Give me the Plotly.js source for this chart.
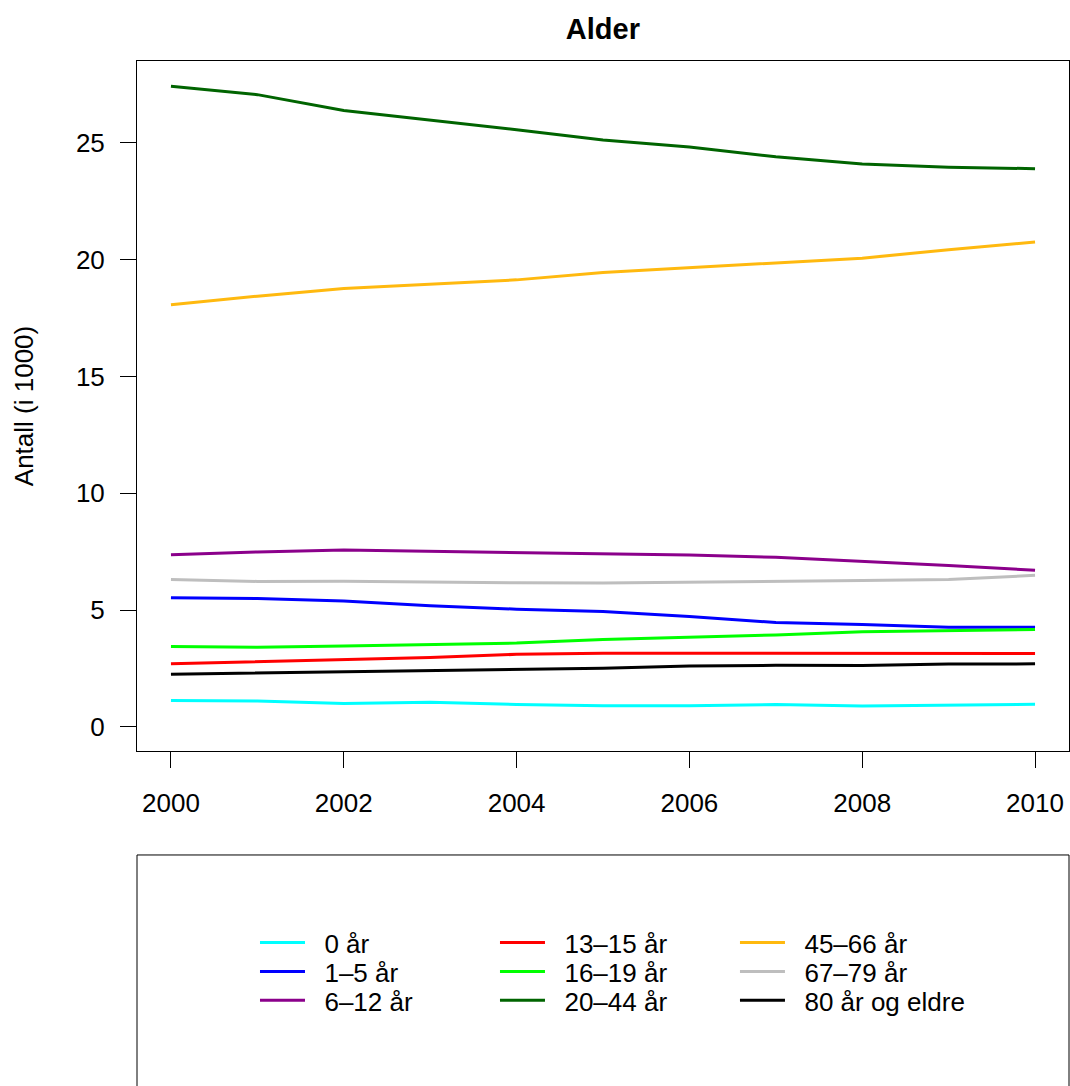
<!DOCTYPE html>
<html>
<head>
<meta charset="utf-8">
<script src="https://cdn.plot.ly/plotly-3.0.1.min.js"></script>
<style>html,body{margin:0;padding:0;background:#fff;}#chart{width:1070px;height:1086px;}</style>
</head>
<body>
<div id="chart"></div>
<script>
const years = [2000, 2001, 2002, 2003, 2004, 2005, 2006, 2007, 2008, 2009, 2010];
const seriesNames = ['0 år', '1–5 år', '6–12 år', '13–15 år', '16–19 år', '20–44 år', '45–66 år', '67–79 år', '80 år og eldre'];
const age0     = [1.13, 1.11, 1.00, 1.06, 0.96, 0.91, 0.91, 0.96, 0.90, 0.93, 0.97];
const age1_5   = [5.53, 5.50, 5.39, 5.19, 5.04, 4.94, 4.73, 4.47, 4.39, 4.27, 4.27];
const age6_12  = [7.37, 7.49, 7.57, 7.51, 7.46, 7.41, 7.36, 7.26, 7.09, 6.91, 6.71];
const age13_15 = [2.71, 2.79, 2.86, 2.97, 3.11, 3.16, 3.16, 3.16, 3.16, 3.17, 3.14];
const age16_19 = [3.44, 3.41, 3.47, 3.53, 3.59, 3.74, 3.83, 3.94, 4.07, 4.13, 4.17];
const age20_44 = [27.43, 27.07, 26.39, 25.99, 25.57, 25.13, 24.83, 24.41, 24.10, 23.96, 23.90];
const age45_66 = [18.07, 18.44, 18.77, 18.96, 19.14, 19.46, 19.67, 19.89, 20.07, 20.43, 20.76];
const age67_79 = [6.31, 6.23, 6.24, 6.20, 6.17, 6.16, 6.19, 6.21, 6.27, 6.31, 6.49];
const age80    = [2.26, 2.31, 2.36, 2.41, 2.46, 2.51, 2.61, 2.64, 2.63, 2.69, 2.70];
const seriesValues = [age0, age1_5, age6_12, age13_15, age16_19, age20_44, age45_66, age67_79, age80];
const colors = ['#00FFFF', '#0000FF', '#8B008B', '#FF0000', '#00FF00', '#006400', '#FFB90F', '#BEBEBE', '#000000'];
const yTicks = [0, 5, 10, 15, 20, 25];
const xTicks = [2000, 2002, 2004, 2006, 2008, 2010];

const FONT = 'Liberation Sans, Arial, Helvetica, sans-serif';
const FS = 26;

// one legend box per entry, laid out column by column as in the reference
const legendCols = [0.1266, 0.3841, 0.6416];
const legendRows = [-0.2435, -0.2855, -0.3275];
const legendIds = seriesNames.map((_, i) => i === 0 ? 'legend' : 'legend' + (i + 1));

const traces = seriesNames.map((name, i) => ({
  type: 'scatter', mode: 'lines', name: '\u00a0\u00a0' + name,
  x: years, y: seriesValues[i],
  line: {color: colors[i], width: 3},
  legend: legendIds[i],
  hoverinfo: 'skip'
}));

const layout = {
  width: 1070, height: 1086,
  margin: {l: 137, r: 1, t: 61, b: 335},
  paper_bgcolor: '#fff', plot_bgcolor: '#fff',
  font: {family: FONT, size: FS, color: '#000'},
  title: {text: '<b>Alder</b>', font: {family: FONT, size: 29, color: '#000'}, x: 0.5635, xanchor: 'center', y: 0.973, yanchor: 'middle'},
  xaxis: {
    range: [1999.607, 2010.393], tickvals: xTicks, ticktext: xTicks.map(String),
    ticks: 'outside', ticklen: 16, tickwidth: 1, tickcolor: '#000',
    showline: true, linecolor: '#000', linewidth: 1, mirror: true,
    showgrid: false, zeroline: false, ticklabelstandoff: 13,
    tickfont: {family: FONT, size: FS, color: '#000'}
  },
  yaxis: {
    range: [-1.03, 28.51], tickvals: yTicks, ticktext: yTicks.map(String),
    ticks: 'outside', ticklen: 16, tickwidth: 1, tickcolor: '#000',
    showline: true, linecolor: '#000', linewidth: 1, mirror: true,
    showgrid: false, zeroline: false, ticklabelstandoff: 10,
    tickfont: {family: FONT, size: FS, color: '#000'},
    title: {text: 'Antall (i 1000)', font: {family: FONT, size: FS, color: '#000'}, standoff: 34}
  },
  showlegend: true,
  shapes: [{
    type: 'rect', xref: 'paper', yref: 'paper',
    x0: 0, x1: 1, y0: -0.4913, y1: -0.1507,
    line: {color: '#000', width: 1}, fillcolor: 'rgba(0,0,0,0)'
  }]
};

legendIds.forEach((id, i) => {
  layout[id] = {
    orientation: 'v', xanchor: 'left', yanchor: 'top',
    x: legendCols[Math.floor(i / 3)], y: legendRows[i % 3],
    font: {family: FONT, size: FS, color: '#000'},
    bgcolor: 'rgba(0,0,0,0)', borderwidth: 0, itemwidth: 45,
    itemclick: false, itemdoubleclick: false
  };
});

Plotly.newPlot('chart', traces, layout, {staticPlot: true, displayModeBar: false});
</script>
</body>
</html>
